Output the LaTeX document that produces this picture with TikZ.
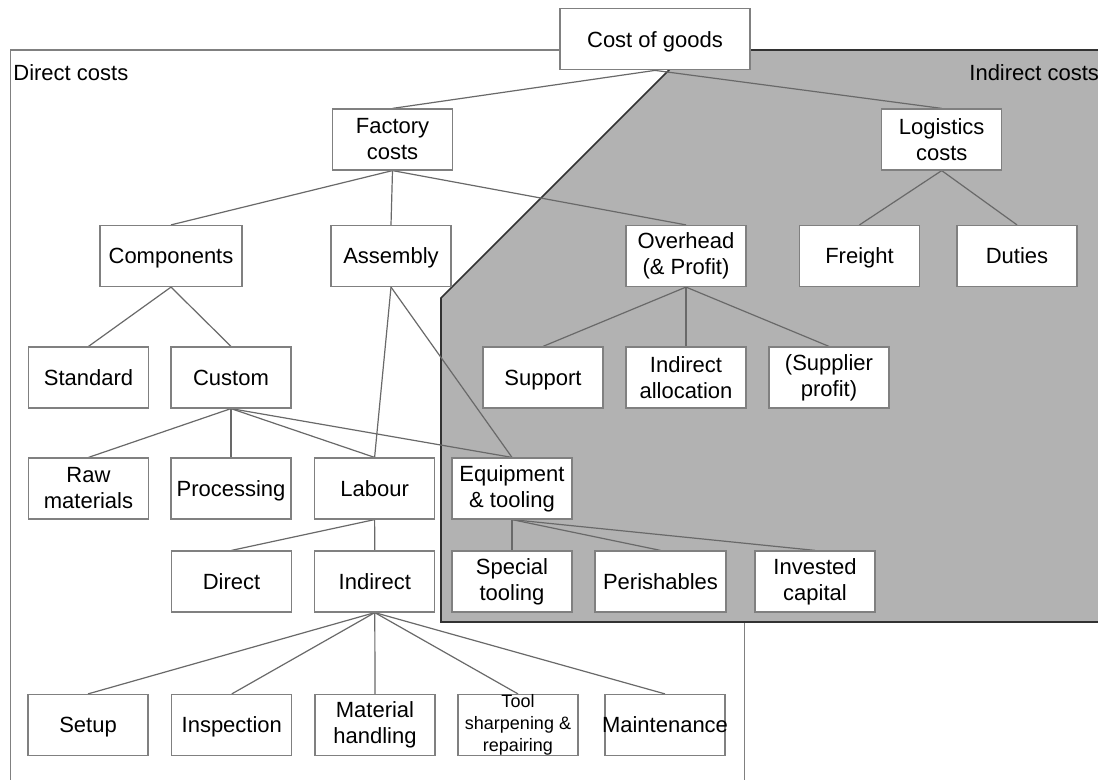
\documentclass[tikz,border=0pt]{standalone}
\usepackage{fontspec}
\setmainfont{Liberation Sans}
\usetikzlibrary{backgrounds}
\definecolor{boxline}{RGB}{128,128,128}
\definecolor{connline}{RGB}{105,105,105}
\definecolor{framecol}{RGB}{128,128,128}
\definecolor{shade}{RGB}{178,178,178}
\definecolor{shadeedge}{RGB}{50,50,50}
\begin{document}
\begin{tikzpicture}[x=0.5pt,y=-0.5pt,
  box/.style={draw=boxline,fill=white,line width=0.6pt,minimum width=60pt,
    minimum height=30.5pt,inner sep=0pt,align=center,
    font=\fontsize{11}{13}\selectfont},
  oneline/.style={box,text height=7.9pt,text depth=0pt},
  conn/.style={draw=connline,line width=0.6pt},
  region/.style={font=\fontsize{11}{13}\selectfont,inner sep=0pt}]
\useasboundingbox (0,0) rectangle (1098,780);

% tree nodes
\node[oneline,minimum width=95pt] (cost) at (655,39.3) {Cost of goods};
\node[box] (factory) at (392.5,139.5) {Factory\\costs};
\node[box] (logistics) at (941.7,139.5) {Logistics\\costs};
\node[oneline,minimum width=71pt] (components) at (171,256) {Components};
\node[oneline] (assembly) at (391,256) {Assembly};
\node[box] (overhead) at (686,256) {Overhead\\(\& Profit)};
\node[oneline] (freight) at (859.5,256) {Freight};
\node[oneline] (duties) at (1017,256) {Duties};
\node[oneline] (standard) at (88.5,377.5) {Standard};
\node[oneline] (custom) at (231,377.5) {Custom};
\node[oneline] (support) at (543,377.5) {Support};
\node[box] (indalloc) at (686,377.5) {Indirect\\allocation};
\node[box] (suppprofit) at (829,377.5) {(Supplier\\profit)};
\node[box] (raw) at (88.5,488.5) {Raw\\materials};
\node[oneline] (processing) at (231,488.5) {Processing};
\node[oneline] (labour) at (374.6,488.5) {Labour};
\node[box] (equipment) at (512,488.5) {Equipment\\\& tooling};
\node[oneline] (direct) at (231.5,581.5) {Direct};
\node[oneline] (indirect) at (374.8,581.5) {Indirect};
\node[box] (special) at (512,581.5) {Special\\tooling};
\node[oneline,minimum width=65.5pt] (perishables) at (660.5,581.5) {Perishables};
\node[box] (invested) at (815,581.5) {Invested\\capital};
\node[oneline] (setup) at (88,725) {Setup};
\node[oneline] (inspection) at (231.8,725) {Inspection};
\node[box] (material) at (375,725) {Material\\handling};
\node[box,font=\fontsize{9}{11}\selectfont] (tool) at (518,725) {Tool\\sharpening \&\\repairing};
\node[oneline] (maintenance) at (665,725) {\makebox[0pt]{Maintenance}};

% region labels
\node[region,anchor=west] (directlbl) at (13,73) {Direct costs};
\node[region,anchor=west] (indirectlbl) at (969,73) {Indirect costs};

\begin{pgfonlayer}{background}
  \fill[white] (0,0) rectangle (1098,780);
  % direct-cost frame, open at the bottom
  \draw[framecol,line width=0.6pt] (10.5,782) -- (10.5,50) -- (744.5,50) -- (744.5,782);
  % indirect-cost region
  \filldraw[fill=shade,draw=shadeedge,line width=0.8pt]
    (689,50) -- (1104,50) -- (1104,622) -- (441,622) -- (441,298) -- cycle;
  % connectors
  \draw[conn] (cost.south) -- (factory.north);
  \draw[conn] (cost.south) -- (logistics.north);
  \draw[conn] (factory.south) -- (components.north);
  \draw[conn] (factory.south) -- (assembly.north);
  \draw[conn] (factory.south) -- (overhead.north);
  \draw[conn] (logistics.south) -- (freight.north);
  \draw[conn] (logistics.south) -- (duties.north);
  \draw[conn] (components.south) -- (standard.north);
  \draw[conn] (components.south) -- (custom.north);
  \draw[conn] (assembly.south) -- (labour.north);
  \draw[conn] (assembly.south) -- (equipment.north);
  \draw[conn] (overhead.south) -- (support.north);
  \draw[conn] (overhead.south) -- (indalloc.north);
  \draw[conn] (overhead.south) -- (suppprofit.north);
  \draw[conn] (custom.south) -- (raw.north);
  \draw[conn] (custom.south) -- (processing.north);
  \draw[conn] (custom.south) -- (labour.north);
  \draw[conn] (custom.south) -- (equipment.north);
  \draw[conn] (labour.south) -- (direct.north);
  \draw[conn] (labour.south) -- (indirect.north);
  \draw[conn] (equipment.south) -- (special.north);
  \draw[conn] (equipment.south) -- (perishables.north);
  \draw[conn] (equipment.south) -- (invested.north);
  \draw[conn] (indirect.south) -- (setup.north);
  \draw[conn] (indirect.south) -- (inspection.north);
  \draw[conn] (indirect.south) -- (material.north);
  \draw[conn] (indirect.south) -- (tool.north);
  \draw[conn] (indirect.south) -- (maintenance.north);
\end{pgfonlayer}
\end{tikzpicture}
\end{document}
